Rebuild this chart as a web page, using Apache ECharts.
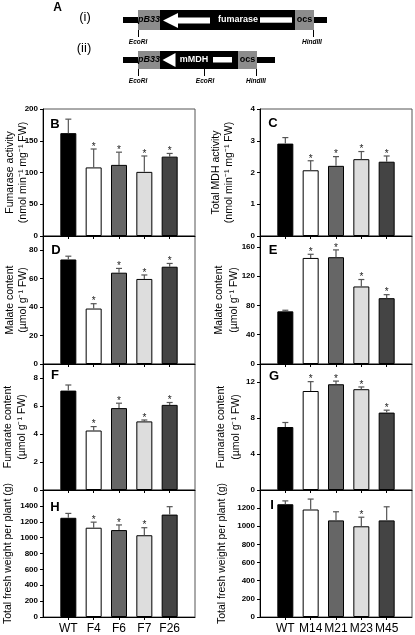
<!DOCTYPE html>
<html><head><meta charset="utf-8">
<script src="https://cdn.jsdelivr.net/npm/echarts@6/dist/echarts.min.js"></script>
<style>html,body{margin:0;padding:0;background:#fff}#c{width:415px;height:635px}</style>
</head><body><div id="c"></div>
<script>
// ---- data ----
const catsF = ['WT','F4','F6','F7','F26'];
const catsM = ['WT','M14','M21','M23','M45'];
// B: fumarase activity
const fumActVal = [162, 108, 112, 101, 125];
const fumActErr = [184, 137, 132, 126, 130];
const fumActSig = [0, 1, 1, 1, 1];
// C: total MDH activity
const mdhActVal = [2.91, 2.07, 2.21, 2.42, 2.34];
const mdhActErr = [3.10, 2.37, 2.50, 2.66, 2.52];
const mdhActSig = [0, 1, 1, 1, 1];
// D: malate (fumarase lines)
const malFVal = [73.5, 39, 64.2, 59.8, 68.4];
const malFErr = [75.8, 42.4, 67.2, 62.6, 70.7];
const malFSig = [0, 1, 1, 1, 1];
// E: malate (mMDH lines)
const malMVal = [72, 145, 146, 106, 90];
const malMErr = [73.5, 150, 156, 115.5, 94.8];
const malMSig = [0, 1, 1, 1, 1];
// F: fumarate (fumarase lines)
const fumFVal = [7.1, 4.25, 5.85, 4.9, 6.08];
const fumFErr = [7.5, 4.53, 6.2, 5.0, 6.25];
const fumFSig = [0, 1, 1, 1, 1];
// G: fumarate (mMDH lines)
const fumMVal = [7.0, 11.0, 11.75, 11.2, 8.6];
const fumMErr = [7.5, 12.04, 12.1, 11.45, 8.87];
const fumMSig = [0, 1, 1, 1, 1];
// H: fresh weight (fumarase lines)
const fwFVal = [1250, 1125, 1095, 1030, 1290];
const fwFErr = [1305, 1195, 1160, 1125, 1390];
const fwFSig = [0, 1, 1, 1, 0];
// I: fresh weight (mMDH lines)
const fwMVal = [1243, 1185, 1065, 1000, 1065];
const fwMErr = [1280, 1300, 1160, 1100, 1215];
const fwMSig = [0, 0, 0, 1, 0];

const barColors = ['#000000', '#ffffff', '#666666', '#dddddd', '#444444'];
const FONT = '"Liberation Sans", Arial, sans-serif';

const panels = [
  {cats:catsF, val:fumActVal, err:fumActErr, sig:fumActSig, max:200, interval:50, hideMax:false, col:0, row:0, letter:'B', lx:55, ly:124.5,
   title:['Fumarase activity','(nmol min\u207B\u00B9 mg\u207B\u00B9 FW)'], tx:[10,23]},
  {cats:catsM, val:mdhActVal, err:mdhActErr, sig:mdhActSig, max:4, interval:1, hideMax:false, col:1, row:0, letter:'C', lx:273, ly:123,
   title:['Total MDH activity','(nmol min\u207B\u00B9 mg\u207B\u00B9 FW)'], tx:[216,229]},
  {cats:catsF, val:malFVal, err:malFErr, sig:malFSig, max:90, interval:20, hideMax:true, col:0, row:1, letter:'D', lx:56, ly:250,
   title:['Malate content','(\u00B5mol g\u207B\u00B9 FW)'], tx:[10,23]},
  {cats:catsM, val:malMVal, err:malMErr, sig:malMSig, max:175, interval:40, hideMax:true, col:1, row:1, letter:'E', lx:273, ly:250,
   title:['Malate content','(\u00B5mol g\u207B\u00B9 FW)'], tx:[219,234]},
  {cats:catsF, val:fumFVal, err:fumFErr, sig:fumFSig, max:9, interval:2, hideMax:true, col:0, row:2, letter:'F', lx:55, ly:375.5,
   title:['Fumarate content','(\u00B5mol g\u207B\u00B9 FW)'], tx:[8,22]},
  {cats:catsM, val:fumMVal, err:fumMErr, sig:fumMSig, max:14, interval:4, hideMax:true, col:1, row:2, letter:'G', lx:274, ly:376,
   title:['Fumarate content','(\u00B5mol g\u207B\u00B9 FW)'], tx:[221,236]},
  {cats:catsF, val:fwFVal, err:fwFErr, sig:fwFSig, max:1600, interval:200, hideMax:true, col:0, row:3, letter:'H', lx:55, ly:507,
   title:['Total fresh weight per plant (g)'], tx:[8]},
  {cats:catsM, val:fwMVal, err:fwMErr, sig:fwMSig, max:1400, interval:200, hideMax:true, col:1, row:3, letter:'I', lx:272, ly:505.5,
   title:['Total fresh weight per plant (g)'], tx:[222]}
];

const rowTops = [109, 236, 364, 490];
const rowH = [127, 128, 126, 127];
const colLeft = [43, 260];
const W = 152;

const grid = [], xAxis = [], yAxis = [], series = [], graphic = [];

panels.forEach((p, i) => {
  const top = rowTops[p.row], h = rowH[p.row], left = colLeft[p.col];
  grid.push({left: left, top: top, width: W, height: h, show: true, borderColor: '#555', borderWidth: 1, backgroundColor: 'transparent'});
  const cats = [''].concat(p.cats, ['']);
  xAxis.push({
    type: 'category', gridIndex: i, data: cats, boundaryGap: false,
    axisLine: {show: true, lineStyle: {color: '#000', width: 1}},
    axisTick: {show: true, length: 3, inside: false, interval: (idx, v) => v !== '', lineStyle: {color: '#000'}},
    axisLabel: {show: p.row === 3, fontSize: 12, color: '#000', margin: 6, fontFamily: FONT, interval: 0},
    splitLine: {show: false}
  });
  const iv = p.interval, mx = p.max, hm = p.hideMax;
  yAxis.push({
    type: 'value', gridIndex: i, min: 0, max: mx, interval: iv,
    axisLine: {show: true, lineStyle: {color: '#000', width: 1}},
    axisTick: {show: true, length: 3, inside: false, lineStyle: {color: '#000'}},
    axisLabel: {fontSize: 8, color: '#000', margin: 5, fontFamily: FONT, fontWeight: 'bold',
      formatter: v => ((hm && v >= mx) || Math.abs(v / iv - Math.round(v / iv)) > 1e-6 ? '' : String(v))},
    splitLine: {show: false}
  });
  series.push({
    type: 'bar', xAxisIndex: i, yAxisIndex: i, barWidth: 16, silent: true,
    data: ['-'].concat(p.val.map((v, k) => ({value: v, itemStyle: {color: barColors[k]}})), ['-']),
    itemStyle: {borderColor: '#000', borderWidth: 1}
  });
  series.push({
    type: 'custom', xAxisIndex: i, yAxisIndex: i, silent: true, z: 5,
    data: p.val.map((v, k) => [k + 1, v, p.err[k], p.sig[k]]),
    renderItem: function (params, api) {
      const x = api.value(0), v = api.value(1), e = api.value(2), s = api.value(3);
      const p0 = api.coord([x, v]), p1 = api.coord([x, e]);
      const ch = [
        {type: 'line', shape: {x1: p0[0], y1: p0[1], x2: p1[0], y2: p1[1]}, style: {stroke: '#555', lineWidth: 1.2}},
        {type: 'line', shape: {x1: p1[0] - 3, y1: p1[1], x2: p1[0] + 3, y2: p1[1]}, style: {stroke: '#555', lineWidth: 1.2}}
      ];
      if (s) {
        ch.push({type: 'text', x: p1[0], y: p1[1] - 2,
          style: {text: '*', fill: '#222', font: '10px ' + FONT, align: 'center', verticalAlign: 'middle', textAlign: 'center', textVerticalAlign: 'middle'}});
      }
      return {type: 'group', children: ch};
    }
  });
  // panel letter
  graphic.push({type: 'text', x: p.lx, y: p.ly, z: 10,
    style: {text: p.letter, fill: '#000', font: 'bold 13px ' + FONT, align: 'center', verticalAlign: 'middle', textAlign: 'center', textVerticalAlign: 'middle'}});
  // axis titles
  p.title.forEach((t, j) => {
    graphic.push({type: 'text', x: p.tx[j], y: top + h / 2, rotation: Math.PI / 2, z: 10,
      style: {text: t, fill: '#000', font: '10.5px ' + FONT, align: 'center', verticalAlign: 'middle', textAlign: 'center', textVerticalAlign: 'middle'}});
  });
});

// ---- panel A schematic ----
function txt(x, y, t, font, fill) {
  return {type: 'text', x: x, y: y, z: 10,
    style: {text: t, fill: fill || '#000', font: font + ' ' + FONT, align: 'center', verticalAlign: 'middle', textAlign: 'center', textVerticalAlign: 'middle'}};
}
function rect(x1, y1, x2, y2, fill) {
  return {type: 'rect', shape: {x: x1, y: y1, width: x2 - x1, height: y2 - y1}, style: {fill: fill}, z: 5};
}
function vline(x, y1, y2) {
  return {type: 'line', shape: {x1: x, y1: y1, x2: x, y2: y2}, style: {stroke: '#000', lineWidth: 1}, z: 5};
}
graphic.push(txt(57.5, 7.5, 'A', 'bold 12px'));
graphic.push(txt(85, 17.5, '(i)', '13px'));
graphic.push(txt(84, 48.5, '(ii)', '13px'));
// construct (i)
graphic.push(rect(123, 17, 327, 23, '#000'));
graphic.push(rect(138, 10, 160, 30, '#8c8c8c'));
graphic.push(rect(160, 10, 295, 30, '#000'));
graphic.push(rect(295, 10, 314, 30, '#8c8c8c'));
graphic.push({type: 'polygon', z: 6, shape: {points: [[163, 20.5], [178, 13], [178, 17.5], [210, 17.5], [210, 23.5], [178, 23.5], [178, 28]]}, style: {fill: '#fff'}});
graphic.push(rect(260, 17.3, 292, 22.7, '#fff'));
graphic.push(txt(238, 20, 'fumarase', 'bold 9px', '#fff'));
graphic.push(txt(149, 20, 'pB33', 'italic bold 9px'));
graphic.push(txt(304.5, 20, 'ocs', 'bold 9px'));
graphic.push(vline(138.5, 30, 37));
graphic.push(vline(313.5, 30, 37));
graphic.push(txt(138, 42.5, 'EcoRI', 'italic bold 6.5px'));
graphic.push(txt(312, 42.5, 'HindIII', 'italic bold 6.5px'));
// construct (ii)
graphic.push(rect(123, 57, 275, 63, '#000'));
graphic.push(rect(138, 51, 160, 69, '#8c8c8c'));
graphic.push(rect(160, 51, 238, 69, '#000'));
graphic.push(rect(238, 51, 257, 69, '#8c8c8c'));
graphic.push({type: 'polygon', z: 6, shape: {points: [[162.5, 60], [175.5, 53], [175.5, 67]]}, style: {fill: '#fff'}});
graphic.push(rect(213, 57, 232, 62.5, '#fff'));
graphic.push(txt(194, 60, 'mMDH', 'bold 9px', '#fff'));
graphic.push(txt(149, 60, 'pB33', 'italic bold 9px'));
graphic.push(txt(247.5, 60, 'ocs', 'bold 9px'));
graphic.push(vline(138.5, 69, 76));
graphic.push(vline(204.5, 69, 76));
graphic.push(vline(256.5, 69, 76));
graphic.push(txt(138, 81, 'EcoRI', 'italic bold 6.5px'));
graphic.push(txt(205, 81, 'EcoRI', 'italic bold 6.5px'));
graphic.push(txt(256, 81, 'HindIII', 'italic bold 6.5px'));

const chart = echarts.init(document.getElementById('c'), null, {renderer: 'canvas'});
chart.setOption({
  backgroundColor: '#fff',
  animation: false,
  grid: grid, xAxis: xAxis, yAxis: yAxis, series: series, graphic: graphic
});
</script></body></html>
